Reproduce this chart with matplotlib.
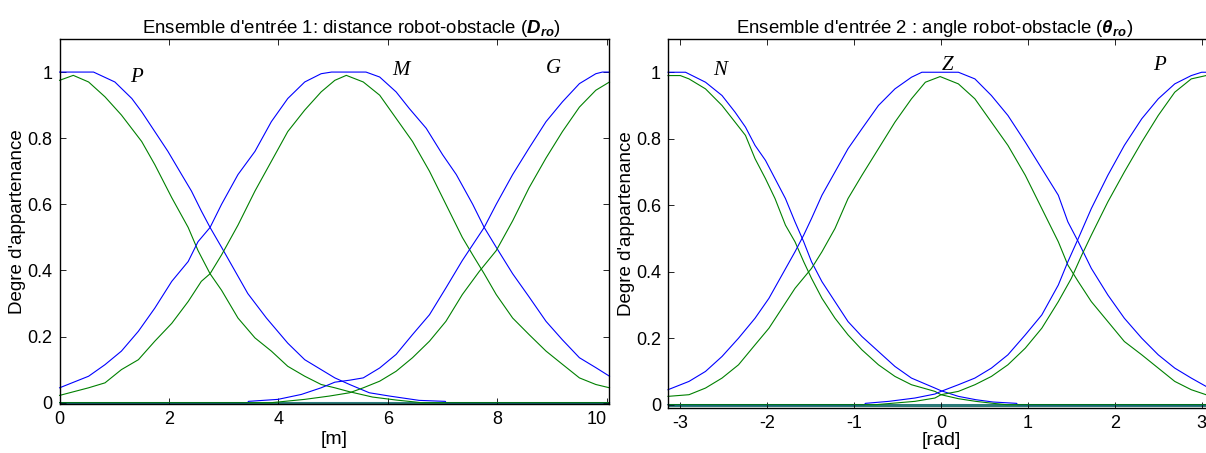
#carrega dependencias
import matplotlib
matplotlib.use("Agg")
import matplotlib.pyplot as plt

plt.rcParams['font.family'] = ['Liberation Sans', 'DejaVu Sans']
plt.rcParams['mathtext.fontset'] = 'custom'
plt.rcParams['mathtext.rm'] = 'Liberation Sans'
plt.rcParams['mathtext.it'] = 'Liberation Sans:italic'
plt.rcParams['mathtext.bf'] = 'Liberation Sans:italic:bold'

# ---- Ensemble 1 : distance robot-obstacle ----
# fonction superieure (bleu) et inferieure (vert) pour P, M, G
d_P_sup_x = [0, 0.62, 1.01, 1.32, 1.5, 1.74, 1.98, 2.23, 2.41, 2.59, 2.75, 2.96, 3.2, 3.44, 3.78, 4.17, 4.48, 4.78, 5.03, 5.3, 5.66, 6.03, 6.57, 7.05, 7.06, 10.05]
d_P_sup_y = [1, 1, 0.97, 0.92, 0.88, 0.82, 0.76, 0.69, 0.64, 0.58, 0.53, 0.47, 0.40, 0.33, 0.256, 0.18, 0.13, 0.10, 0.075, 0.055, 0.03, 0.02, 0.007, 0.004, 0, 0]
d_P_inf_x = [0, 0.25, 0.53, 0.83, 1.13, 1.5, 1.74, 2.05, 2.35, 2.53, 2.75, 2.96, 3.26, 3.57, 3.87, 4.17, 4.48, 4.78, 5.03, 5.3, 5.72, 6.15, 6.5, 6.6, 10.05]
d_P_inf_y = [0.975, 0.99, 0.97, 0.925, 0.87, 0.79, 0.72, 0.62, 0.53, 0.46, 0.39, 0.34, 0.256, 0.196, 0.156, 0.11, 0.08, 0.055, 0.045, 0.033, 0.017, 0.008, 0.002, 0, 0]

d_M_sup_x = [0, 0.53, 0.83, 1.13, 1.44, 1.74, 2.05, 2.35, 2.53, 2.75, 2.96, 3.26, 3.57, 3.87, 4.17, 4.48, 4.78, 4.97, 5.6, 5.85, 6.15, 6.39, 6.7, 7.0, 7.25, 7.55, 7.76, 7.98, 8.28, 8.58, 8.89, 9.19, 9.5, 9.8, 10.05]
d_M_sup_y = [0.045, 0.08, 0.115, 0.156, 0.216, 0.286, 0.367, 0.427, 0.487, 0.53, 0.60, 0.69, 0.76, 0.85, 0.92, 0.97, 0.995, 1, 1, 0.985, 0.94, 0.89, 0.83, 0.75, 0.69, 0.60, 0.53, 0.47, 0.39, 0.32, 0.246, 0.19, 0.136, 0.106, 0.08]
d_M_inf_x = [0, 0.53, 0.83, 1.13, 1.44, 1.74, 2.05, 2.35, 2.59, 2.75, 2.96, 3.26, 3.57, 3.87, 4.17, 4.48, 4.78, 5.03, 5.24, 5.55, 5.85, 6.15, 6.45, 6.76, 7.06, 7.36, 7.55, 7.76, 7.98, 8.28, 8.58, 8.89, 9.19, 9.5, 9.8, 10.05]
d_M_inf_y = [0.022, 0.045, 0.06, 0.10, 0.13, 0.186, 0.24, 0.306, 0.367, 0.39, 0.447, 0.537, 0.64, 0.73, 0.82, 0.885, 0.94, 0.975, 0.99, 0.97, 0.93, 0.86, 0.79, 0.70, 0.60, 0.50, 0.447, 0.39, 0.327, 0.256, 0.206, 0.156, 0.116, 0.075, 0.055, 0.045]

d_G_sup_x = [0, 3.44, 3.45, 3.99, 4.42, 4.78, 5.03, 5.3, 5.55, 5.85, 6.15, 6.45, 6.76, 7.06, 7.36, 7.76, 7.98, 8.28, 8.58, 8.89, 9.19, 9.5, 9.8, 9.92, 10.05]
d_G_sup_y = [0, 0, 0.004, 0.01, 0.025, 0.045, 0.062, 0.068, 0.075, 0.105, 0.146, 0.206, 0.266, 0.347, 0.43, 0.53, 0.60, 0.69, 0.77, 0.85, 0.91, 0.965, 0.995, 1, 1]
d_G_inf_x = [0, 3.87, 4.48, 4.93, 5.3, 5.55, 5.85, 6.15, 6.45, 6.76, 7.06, 7.36, 7.67, 7.98, 8.28, 8.58, 8.89, 9.19, 9.5, 9.8, 10.05]
d_G_inf_y = [0, 0, 0.01, 0.02, 0.03, 0.045, 0.065, 0.095, 0.136, 0.186, 0.246, 0.327, 0.397, 0.46, 0.55, 0.65, 0.74, 0.82, 0.894, 0.945, 0.97]

# ---- Ensemble 2 : angle robot-obstacle ----
a_N_sup_x = [-3.1416, -2.94, -2.71, -2.52, -2.37, -2.25, -2.14, -2.02, -1.91, -1.79, -1.68, -1.58, -1.49, -1.37, -1.22, -1.07, -0.91, -0.72, -0.53, -0.34, -0.07, 0, 0.2, 0.4, 0.6, 0.87, 0.88, 3.1416]
a_N_sup_y = [1, 1, 0.97, 0.93, 0.88, 0.835, 0.78, 0.735, 0.68, 0.62, 0.55, 0.49, 0.43, 0.37, 0.31, 0.25, 0.205, 0.16, 0.115, 0.08, 0.05, 0.042, 0.025, 0.015, 0.008, 0.004, 0, 0]
a_N_inf_x = [-3.1416, -3.0, -2.9, -2.71, -2.52, -2.37, -2.25, -2.14, -2.02, -1.91, -1.79, -1.68, -1.58, -1.49, -1.37, -1.22, -1.07, -0.91, -0.72, -0.53, -0.34, -0.07, 0, 0.2, 0.4, 0.6, 0.75, 3.1416]
a_N_inf_y = [0.99, 0.99, 0.98, 0.95, 0.90, 0.85, 0.81, 0.74, 0.68, 0.62, 0.54, 0.49, 0.43, 0.38, 0.32, 0.26, 0.21, 0.165, 0.12, 0.085, 0.06, 0.04, 0.03, 0.018, 0.01, 0.004, 0, 0]

a_Z_sup_x = [-3.1416, -2.9, -2.71, -2.52, -2.33, -2.14, -1.98, -1.83, -1.68, -1.58, -1.49, -1.37, -1.22, -1.07, -0.91, -0.72, -0.53, -0.34, -0.22, 0.2, 0.39, 0.58, 0.77, 0.97, 1.16, 1.35, 1.46, 1.58, 1.73, 1.92, 2.11, 2.31, 2.5, 2.69, 2.88, 3.05, 3.1416]
a_Z_sup_y = [0.045, 0.07, 0.10, 0.145, 0.20, 0.26, 0.32, 0.39, 0.46, 0.51, 0.56, 0.63, 0.70, 0.77, 0.83, 0.90, 0.95, 0.985, 1, 1, 0.98, 0.93, 0.87, 0.79, 0.71, 0.63, 0.55, 0.49, 0.41, 0.33, 0.26, 0.20, 0.15, 0.11, 0.08, 0.055, 0.047]
a_Z_inf_x = [-3.1416, -2.9, -2.71, -2.52, -2.33, -2.14, -1.98, -1.83, -1.68, -1.49, -1.37, -1.22, -1.07, -0.91, -0.72, -0.53, -0.34, -0.18, -0.01, 0.2, 0.39, 0.58, 0.77, 0.97, 1.16, 1.35, 1.46, 1.58, 1.73, 1.92, 2.11, 2.31, 2.5, 2.69, 2.88, 3.05, 3.1416]
a_Z_inf_y = [0.025, 0.03, 0.05, 0.08, 0.12, 0.18, 0.23, 0.29, 0.35, 0.41, 0.46, 0.53, 0.62, 0.69, 0.77, 0.85, 0.92, 0.97, 0.987, 0.965, 0.92, 0.85, 0.78, 0.69, 0.59, 0.49, 0.42, 0.37, 0.31, 0.25, 0.19, 0.15, 0.11, 0.07, 0.045, 0.03, 0.025]

a_P_sup_x = [-3.1416, -0.88, -0.87, -0.6, -0.3, -0.07, 0, 0.2, 0.39, 0.58, 0.77, 0.97, 1.16, 1.35, 1.46, 1.58, 1.73, 1.92, 2.11, 2.31, 2.5, 2.69, 2.88, 3.0, 3.1416]
a_P_sup_y = [0, 0, 0.004, 0.01, 0.02, 0.032, 0.04, 0.06, 0.08, 0.11, 0.15, 0.21, 0.27, 0.36, 0.43, 0.50, 0.59, 0.69, 0.78, 0.86, 0.92, 0.965, 0.99, 1, 1]
a_P_inf_x = [-3.1416, -0.75, -0.3, -0.07, 0, 0.2, 0.39, 0.58, 0.77, 0.97, 1.16, 1.35, 1.5, 1.62, 1.73, 1.92, 2.11, 2.31, 2.5, 2.69, 2.88, 3.05, 3.1416]
a_P_inf_y = [0, 0, 0.01, 0.02, 0.03, 0.04, 0.06, 0.085, 0.12, 0.17, 0.23, 0.31, 0.38, 0.45, 0.51, 0.61, 0.70, 0.79, 0.87, 0.94, 0.98, 0.99, 0.99]

# etiquettes des ensembles flous (position)
noms_1 = ['P', 'M', 'G']
pos_noms_1 = [(1.41, 0.985), (6.24, 1.005), (9.02, 1.01)]
noms_2 = ['N', 'Z', 'P']
pos_noms_2 = [(-2.54, 1.005), (0.08, 1.02), (2.52, 1.02)]

bleu = '#0000ff'
vert = '#008000'
lw = 0.8

fig = plt.figure(figsize=(12.06, 4.53), dpi=100)
ax1 = fig.add_axes([59.6 / 1206, 1 - 404 / 453, (609.5 - 59.6) / 1206, (404 - 39) / 453])
ax2 = fig.add_axes([668 / 1206, 1 - 408 / 453, (1214 - 668) / 1206, (408 - 39) / 453])

def habiller(ax):
    # style matlab : graduations vers l'interieur sur les 4 cotes
    ax.tick_params(direction='in', top=True, right=True, length=4, width=0.6,
                   labelsize=13, pad=5)
    for s in ax.spines.values():
        s.set_linewidth(1.0)
    ax.set_yticks([0, 0.2, 0.4, 0.6, 0.8, 1])
    ax.set_yticklabels(['0', '0.2', '0.4', '0.6', '0.8', '1'])
    ax.set_ylabel("Degre d'appartenance", fontsize=13.5, labelpad=1)

# sous-figure 1
for xs, ys, c in [(d_P_sup_x, d_P_sup_y, bleu), (d_P_inf_x, d_P_inf_y, vert),
                  (d_M_sup_x, d_M_sup_y, bleu), (d_M_inf_x, d_M_inf_y, vert),
                  (d_G_sup_x, d_G_sup_y, bleu), (d_G_inf_x, d_G_inf_y, vert)]:
    ax1.plot(xs, ys, color=c, lw=lw, clip_on=False)
ax1.axhline(0, color='#2a7a78', lw=2.2, zorder=1.5)
ax1.set_xlim(0, 10.05)
ax1.set_ylim(-0.004, 1.1)
habiller(ax1)
ax1.set_xticks([0, 2, 4, 6, 8, 10])
ax1.set_xticklabels(['0', '2', '4', '6', '8', '10'])
ax1.get_xticklabels()[-1].set_horizontalalignment('right')
ax1.set_xlabel('[m]', fontsize=14, labelpad=2)
ax1.set_title(r"Ensemble d'entrée 1: distance robot-obstacle ($\mathbf{D_{ro}}$)",
              fontsize=13.4, pad=4, x=0.53)
for nom, (x, y) in zip(noms_1, pos_noms_1):
    ax1.text(x, y, nom, family='Liberation Serif', style='italic', fontsize=15,
             ha='center', va='center')

# sous-figure 2
for xs, ys, c in [(a_N_sup_x, a_N_sup_y, bleu), (a_N_inf_x, a_N_inf_y, vert),
                  (a_Z_sup_x, a_Z_sup_y, bleu), (a_Z_inf_x, a_Z_inf_y, vert),
                  (a_P_sup_x, a_P_sup_y, bleu), (a_P_inf_x, a_P_inf_y, vert)]:
    ax2.plot(xs, ys, color=c, lw=lw, clip_on=False)
ax2.axhline(0, color='#2a7a78', lw=2.2, zorder=1.5)
ax2.set_xlim(-3.1416, 3.1416)
ax2.set_ylim(-0.01, 1.1)
habiller(ax2)
ax2.set_xticks([-3, -2, -1, 0, 1, 2, 3])
ax2.set_xticklabels(['-3', '-2', '-1', '0', '1', '2', '3'])
ax2.set_xlabel('[rad]', fontsize=14, labelpad=0)
ax2.set_title(r"Ensemble d'entrée 2 : angle robot-obstacle ($\mathbf{\theta_{ro}}$)",
              fontsize=13.4, pad=4, x=(935 - 668) / (1214 - 668))
for nom, (x, y) in zip(noms_2, pos_noms_2):
    ax2.text(x, y, nom, family='Liberation Serif', style='italic', fontsize=15,
             ha='center', va='center')

fig.savefig('out.png', dpi=100)
